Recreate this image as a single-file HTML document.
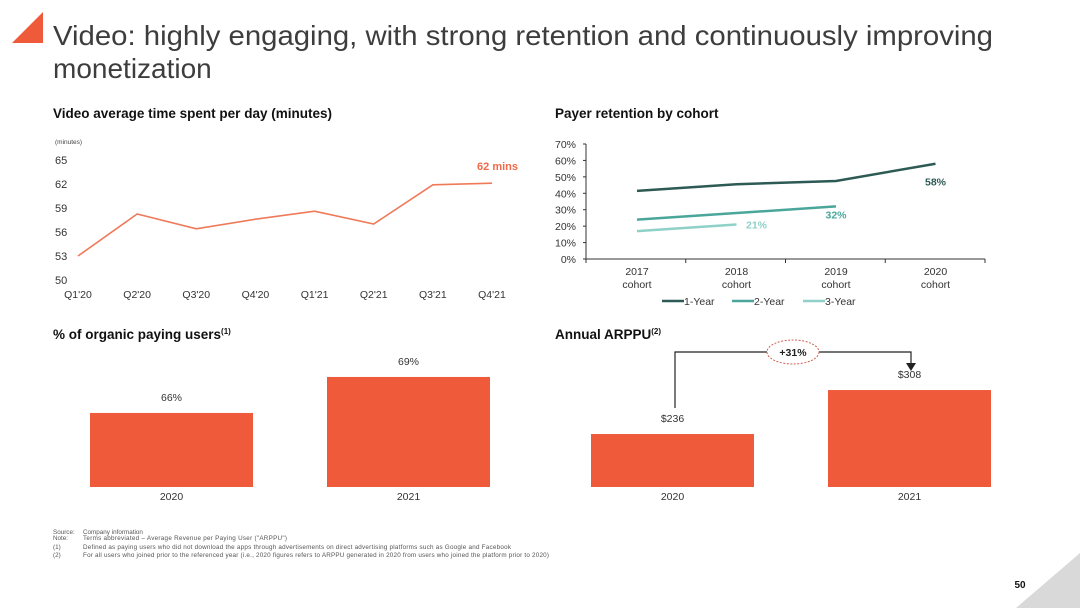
<!DOCTYPE html>
<html><head><meta charset="utf-8"><style>
body{margin:0;background:#fff}
svg{display:block;font-family:"Liberation Sans",Arial,sans-serif}
</style></head><body>
<svg id="s" width="1080" height="608" viewBox="0 0 1080 608">
<rect width="1080" height="608" fill="#fff"/>
<polygon points="12,43 43,43 43,12" fill="#ef5a3a"/>
<text x="53" y="45" font-size="28" fill="#3d3d3d" textLength="940" lengthAdjust="spacingAndGlyphs">Video: highly engaging, with strong retention and continuously improving</text>
<text x="53" y="78" font-size="28" fill="#3d3d3d">monetization</text>
<text x="53" y="118" font-size="13.5" font-weight="bold" fill="#111" textLength="279">Video average time spent per day (minutes)</text>
<text x="555" y="118" font-size="13.5" font-weight="bold" fill="#111">Payer retention by cohort</text>
<text x="53" y="339" font-size="13.5" font-weight="bold" fill="#111">% of organic paying users<tspan font-size="8" dy="-5">(1)</tspan></text>
<text x="555" y="339" font-size="13.5" font-weight="bold" fill="#111">Annual ARPPU<tspan font-size="8" dy="-5">(2)</tspan></text>
<g id="c1"></g><g id="c2"></g><g id="c3"></g><g id="c4"></g>
<g font-size="6.3" fill="#555">
<text x="53" y="534">Source:</text><text x="83" y="534">Company information</text>
<text x="53" y="540">Note:</text><text x="83" y="540" textLength="204">Terms abbreviated – Average Revenue per Paying User ("ARPPU")</text>
<text x="53" y="549">(1)</text><text x="83" y="549" textLength="428">Defined as paying users who did not download the apps through advertisements on direct advertising platforms such as Google and Facebook</text>
<text x="53" y="557">(2)</text><text x="83" y="557" textLength="466">For all users who joined prior to the referenced year (i.e., 2020 figures refers to ARPPU generated in 2020 from users who joined the platform prior to 2020)</text>
</g>
<polygon points="1080,553 1080,608 1016,608" fill="#d9d9d9"/>
<text x="1020" y="588" font-size="10" font-weight="bold" fill="#111" text-anchor="middle">50</text>
</svg>
<script>
const quarters=["Q1'20","Q2'20","Q3'20","Q4'20","Q1'21","Q2'21","Q3'21","Q4'21"];
const minutes=[53,58.25,56.4,57.6,58.6,57,61.9,62.1];
const minuteTicks=[50,53,56,59,62,65];
const cohorts=["2017","2018","2019","2020"];
const retention1=[41.5,45.5,47.5,58];
const retention2=[24,28,32];
const retention3=[17,21];
const pctTicks=[0,10,20,30,40,50,60,70];
const years=["2020","2021"];
const organic=[66,69];
const arppu=[236,308];
const NS="http://www.w3.org/2000/svg";
function mk(p,tag,a,txt){const e=document.createElementNS(NS,tag);for(const k in a)e.setAttribute(k,a[k]);if(txt!=null)e.textContent=txt;p.appendChild(e);return e;}
(function(){
const g=document.getElementById('c1');
const x=i=>78+i*(492-78)/(quarters.length-1);
const y=v=>280-(v-50)*8;
mk(g,'text',{x:55,y:144,'font-size':6.5,fill:'#444'},'(minutes)');
minuteTicks.forEach(t=>{const e=mk(g,'text',{x:55,y:y(t)+4,'font-size':11,fill:'#333'},String(t));

});
quarters.forEach((q,i)=>{const e=mk(g,'text',{x:x(i),y:298,'font-size':10.5,fill:'#333','text-anchor':'middle'},q);

});
const l=mk(g,'polyline',{points:minutes.map((v,i)=>x(i)+','+y(v)).join(' '),fill:'none',stroke:'#ef7a5a','stroke-width':1.6});


const lb=mk(g,'text',{x:x(7)+26,y:y(minutes[7])-13,'font-size':11,'font-weight':'bold',fill:'#ef6a4a','text-anchor':'end'},Math.round(minutes[7])+' mins');


})();
(function(){
const g=document.getElementById('c2');
const x=i=>637+i*99.5;
const y=v=>259-v*115/70;
mk(g,'line',{x1:586,y1:259,x2:985,y2:259,stroke:'#333','stroke-width':1});
mk(g,'line',{x1:586,y1:144,x2:586,y2:259,stroke:'#333','stroke-width':1});
pctTicks.forEach(t=>{mk(g,'line',{x1:583,y1:y(t),x2:586,y2:y(t),stroke:'#333'});
const e=mk(g,'text',{x:576,y:y(t)+4,'font-size':10.5,fill:'#333','text-anchor':'end'},t+'%');

});
for(let i=0;i<=cohorts.length;i++)mk(g,'line',{x1:586+i*99.75,y1:259,x2:586+i*99.75,y2:263,stroke:'#333'});
cohorts.forEach((c,i)=>{const e=mk(g,'text',{x:x(i),y:275,'font-size':10.5,fill:'#333','text-anchor':'middle'},c);


mk(g,'text',{x:x(i),y:288,'font-size':10.5,fill:'#333','text-anchor':'middle'},'cohort');});
const series=[[retention1,'#2d5a54','1-Year',662],[retention2,'#4aa69a','2-Year',732],[retention3,'#8fd0c8','3-Year',803]];
series.forEach(([d,c,n,lx])=>{
const p=mk(g,'polyline',{points:d.map((v,i)=>x(i)+','+y(v)).join(' '),fill:'none',stroke:c,'stroke-width':2.5});


mk(g,'line',{x1:lx,y1:301,x2:lx+22,y2:301,stroke:c,'stroke-width':2.5});
const e=mk(g,'text',{x:lx+22,y:305,'font-size':10.5,fill:'#333'},n);


const last=d.length-1;
const t=mk(g,'text',{x:x(last)+(n==='3-Year'?20:0),y:y(d[last])+(n==='1-Year'?22:n==='2-Year'?12:4),'font-size':10.5,'font-weight':'bold',fill:c,'text-anchor':'middle'},Math.round(d[last])+'%');


});
})();
function bars(id,vals,x0s,w,base,k,fmt,nm){
const g=document.getElementById(id);
vals.forEach((v,i)=>{const h=(v-base)*k;
const r=mk(g,'rect',{x:x0s[i],y:487-h,width:w,height:h,fill:'#ef5a3a'});


const t=mk(g,'text',{x:x0s[i]+w/2,y:487-h-12,'font-size':10.5,fill:'#333','text-anchor':'middle'},fmt(v));


const yl=mk(g,'text',{x:x0s[i]+w/2,y:500,'font-size':10.5,fill:'#333','text-anchor':'middle'},years[i]);

});
return g;}
bars('c3',organic,[90,327],163,59.83,12,v=>v+'%','organic');
const g4=bars('c4',arppu,[591,828],163,149.3,0.611,v=>'$'+v,'arppu');
mk(g4,'polyline',{points:'675,408 675,352 911,352 911,364',fill:'none',stroke:'#222','stroke-width':1.2});
mk(g4,'polygon',{points:'906,363 916,363 911,371',fill:'#222'});
const el=mk(g4,'ellipse',{cx:793,cy:352,rx:26,ry:12,fill:'#fff',stroke:'#d06050','stroke-dasharray':'2,1.5'});


mk(g4,'text',{x:793,y:356,'font-size':10.5,'font-weight':'bold',fill:'#222','text-anchor':'middle'},'+31%');
</script>
</body></html>
